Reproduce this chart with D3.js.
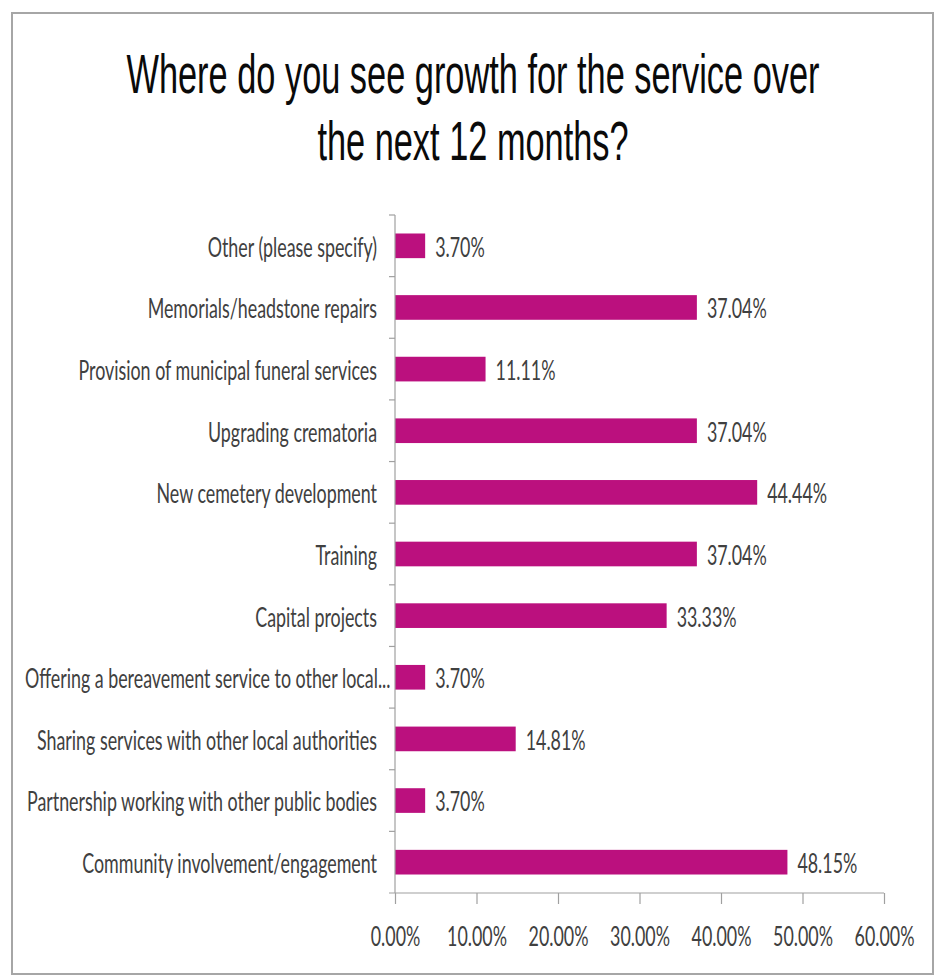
<!DOCTYPE html>
<html>
<head>
<meta charset="utf-8">
<script src="https://cdn.jsdelivr.net/npm/d3@7"></script>
<style>
  html, body { margin: 0; padding: 0; background: #fff; }
  svg { display: block; }
</style>
</head>
<body>
<svg id="chart" width="936" height="980"></svg>
<script>
const titleLines = ["Where do you see growth for the service over", "the next 12 months?"];
const categories = [
  "Other (please specify)",
  "Memorials/headstone repairs",
  "Provision of municipal funeral services",
  "Upgrading crematoria",
  "New cemetery development",
  "Training",
  "Capital projects",
  "Offering a bereavement service to other local...",
  "Sharing services with other local authorities",
  "Partnership working with other public bodies",
  "Community involvement/engagement"
];
const values = [3.70, 37.04, 11.11, 37.04, 44.44, 37.04, 33.33, 3.70, 14.81, 3.70, 48.15];
const xTicks = [0, 10, 20, 30, 40, 50, 60];

const svg = d3.select("#chart");

// frame
svg.append("rect").attr("x", 12).attr("y", 13).attr("width", 921).attr("height", 961)
  .attr("fill", "#fff").attr("stroke", "#a6a6a6").attr("stroke-width", 2);

const margin = { left: 395, top: 215 };
const x = d3.scaleLinear().domain([0, 60]).range([margin.left, 884]);
const y = d3.scaleBand().domain(categories).range([margin.top, 893]).paddingInner(0.6).paddingOuter(0.3);
const step = y.step();

const textFont = "Lato, 'Open Sans', sans-serif";
const fs = 26;

function squeeze(sel, k) {
  sel.each(function() {
    const w = this.getComputedTextLength();
    d3.select(this).attr("textLength", w * k).attr("lengthAdjust", "spacingAndGlyphs");
  });
}

const probe = svg.append("text").attr("font-family", textFont).attr("font-size", fs)
  .text("Sharing services with other local authorities");
const kBody = 340 / probe.node().getComputedTextLength();
probe.remove();

// title
const probeT = svg.append("text").attr("font-family", "'Liberation Sans', Arial, sans-serif").attr("font-size", 56)
  .text(titleLines[0]);
const kTitle = 693 / probeT.node().getComputedTextLength();
probeT.remove();
svg.append("g").selectAll("text").data(titleLines).join("text")
  .attr("x", 473)
  .attr("y", (d, i) => 93 + i * 67)
  .attr("text-anchor", "middle")
  .attr("font-family", "'Liberation Sans', Arial, sans-serif")
  .attr("font-size", 56)
  .attr("fill", "#0a0a0a")
  .text(d => d)
  .call(squeeze, kTitle);

// bars
svg.append("g").selectAll("rect").data(categories).join("rect")
  .attr("x", x(0))
  .attr("y", d => y(d))
  .attr("width", (d, i) => x(values[i]) - x(0))
  .attr("height", y.bandwidth())
  .attr("fill", "#bb107e");

// y axis line & ticks
const axisColor = "#a0a0a0";
const gy = svg.append("g");
gy.append("line").attr("x1", x(0)).attr("x2", x(0)).attr("y1", margin.top).attr("y2", 893)
  .attr("stroke", axisColor).attr("stroke-width", 1.2);
gy.selectAll("line.tk").data(d3.range(categories.length)).join("line").attr("class", "tk")
  .attr("x1", x(0) - 6).attr("x2", x(0))
  .attr("y1", i => margin.top + i * step).attr("y2", i => margin.top + i * step)
  .attr("stroke", axisColor).attr("stroke-width", 1.2);

// category labels (right-aligned; long labels kept inside the frame's inner margin)
const labelRight = 377, labelMinLeft = 25;
svg.append("g").selectAll("text").data(categories).join("text")
  .attr("x", labelRight)
  .attr("y", d => y(d) + y.bandwidth() / 2)
  .attr("dy", "0.42em")
  .attr("text-anchor", "end")
  .attr("font-family", textFont)
  .attr("font-size", fs)
  .attr("fill", "#404040")
  .text(d => d)
  .call(squeeze, kBody)
  .each(function() {
    const w = +this.getAttribute("textLength");
    if (labelRight - w < labelMinLeft) d3.select(this).attr("x", labelMinLeft + w);
  });

// value labels
svg.append("g").selectAll("text").data(categories).join("text")
  .attr("x", (d, i) => x(values[i]) + 10)
  .attr("y", d => y(d) + y.bandwidth() / 2)
  .attr("dy", "0.42em")
  .attr("font-family", textFont)
  .attr("font-size", fs)
  .attr("fill", "#404040")
  .text((d, i) => values[i].toFixed(2) + "%")
  .call(squeeze, kBody);

// x axis
const gx = svg.append("g").attr("transform", "translate(0,893)")
  .call(d3.axisBottom(x).tickValues(xTicks).tickSize(11).tickPadding(6)
    .tickFormat(d => d.toFixed(2) + "%"));
gx.select(".domain").remove();
gx.append("line").attr("x1", x(0) - 6).attr("x2", x(60)).attr("y1", 0).attr("y2", 0)
  .attr("stroke", axisColor).attr("stroke-width", 1.2);
gx.selectAll(".tick line").attr("stroke", axisColor).attr("stroke-width", 1.2);
gx.selectAll(".tick text")
  .attr("font-family", textFont)
  .attr("font-size", fs)
  .attr("fill", "#404040")
  .attr("dy", null)
  .attr("y", 53)
  .call(squeeze, kBody);
</script>
</body>
</html>
